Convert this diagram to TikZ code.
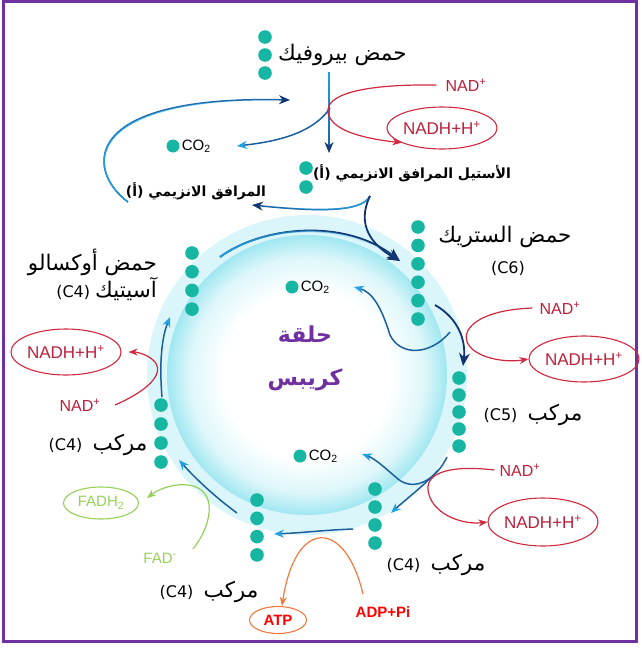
\documentclass[tikz,border=0pt]{standalone}
\usepackage{fontspec}
\setmainfont{Liberation Sans}
\newfontfamily\arabicfont[Script=Arabic]{DejaVu Sans}
\TeXXeTstate=1
\usetikzlibrary{arrows.meta, positioning, shapes.geometric, fadings}
\definecolor{xTeal}{RGB}{22,182,162}
\definecolor{xNavy}{RGB}{18,52,112}
\definecolor{xMid}{RGB}{26,96,158}
\definecolor{xSky}{RGB}{34,162,228}
\definecolor{xRed}{RGB}{208,40,62}
\definecolor{xWine}{RGB}{186,32,58}
\definecolor{xOrange}{RGB}{240,122,62}
\definecolor{xLime}{RGB}{150,208,88}
\definecolor{xPurple}{RGB}{112,48,160}
\definecolor{xHalo}{RGB}{218,246,250}
\definecolor{xCyan}{RGB}{160,231,241}
\pgfdeclareradialshading{krebsglow}{\pgfpoint{0bp}{0bp}}{color(0bp)=(white); color(15bp)=(white); color(21bp)=(xCyan!35); color(25bp)=(xCyan); color(50bp)=(xCyan)}
\tikzset{
  bead/.style={fill=xTeal},
  co2dot/.style={circle, fill=xTeal, inner sep=0pt, minimum size=13pt},
  tag/.style={font=\arabicfont\fontsize{16}{27}\selectfont, inner sep=1pt},
  btag/.style={font=\arabicfont\bfseries\fontsize{14}{16}\selectfont, inner sep=1pt},
  ringtitle/.style={font=\arabicfont\bfseries\fontsize{22}{43}\selectfont, text=xPurple, align=center, inner sep=1pt},
  mol/.style={font=\fontsize{15}{15}\selectfont, inner sep=1pt},
  nad/.style={font=\fontsize{16}{16}\selectfont, text=xWine, inner sep=1pt},
  nadh/.style={ellipse, draw=xRed, line width=1.1pt, text=xWine, inner sep=0pt, font=\fontsize{17}{17}\selectfont},
  fadtext/.style={font=\fontsize{15}{15}\selectfont, text=xLime, inner sep=1pt},
  fadh/.style={ellipse, draw=xLime, line width=1.1pt, text=xLime, inner sep=0pt, font=\fontsize{15}{15}\selectfont},
  energy/.style={font=\bfseries\fontsize{15}{15}\selectfont, text=red, inner sep=1pt},
  atpbox/.style={ellipse, draw=xOrange, line width=1.1pt, text=red, inner sep=0pt, font=\bfseries\fontsize{15}{15}\selectfont},
  main/.style={-{Stealth[length=13pt, width=11pt]}, line width=1.8pt, xNavy},
  back/.style={-{Stealth[length=11pt, width=9pt, color=xNavy]}, line width=1.5pt, xMid},
  side/.style={-{Stealth[length=10pt, width=8pt, color=xSky]}, line width=1.5pt, xMid},
  sheen/.style={postaction={draw=xSky, -, path fading=#1}},
  redox/.style={-{Stealth[length=9pt, width=7pt]}, line width=1.2pt, xRed},
  fadox/.style={-{Stealth[length=9pt, width=7pt]}, line width=1.2pt, xLime},
  phos/.style={-{Stealth[length=9pt, width=7pt]}, line width=1.2pt, xOrange},
}
% a column of carbon beads: name, x, top y, count, step
\newcommand{\beads}[5]{%
  \coordinate (#1) at (#2,#3);
  \foreach \k in {1,...,#4} \fill[bead] (#2,{#3+#5*(\k-1)}) circle[radius=6.8pt];
}
% Arabic words are set larger than the Latin around them
\newcommand{\arw}[1]{{\fontsize{21.5}{27}\selectfont #1}}

\begin{document}
\begin{tikzpicture}[x=1pt, y=-1pt]
  \useasboundingbox (0,0) rectangle (641,648);
  % the ring
  \fill[xHalo] (307,375) circle[radius=160pt];
  \shade[shading=krebsglow] (307,375) circle[radius=140pt];
  \fill[white] (236,315) rectangle (378,415);
  \draw[xPurple, line width=3pt] (3.5,1.5) rectangle (636.5,641.5);

  % molecules
  \beads{pyr}{265}{37}{3}{18}
  \beads{acoa}{306}{168}{2}{19}
  \beads{cit}{418}{227}{6}{18.4}
  \beads{kg}{459}{378}{5}{17}
  \beads{sca}{375}{489}{4}{18}
  \beads{suc}{257}{500}{4}{18.3}
  \beads{mal}{161}{405}{4}{19}
  \beads{oaa}{192}{253}{4}{18.7}

  \node[tag, anchor=west] (tpyr) at (277,55) {\arw{\beginR حمض بيروفيك\endR}};
  \node[btag] (tacoa) at (412,173) {(أ) \beginR الأستيل المرافق الانزيمي\endR};
  \node[btag] (tcoa) at (196,191) {(أ) \beginR المرافق الانزيمي\endR};
  \node[tag] (tcit) at (505,237) {\arw{\beginR حمض الستريك\endR}};
  \node[tag] (tc6) at (508,268) {(C6)};
  \node[tag] (tkg) at (533,415) {(C5)\ \ \arw{مركب}};
  \node[tag] (tsca) at (436,565) {(C4)\ \ \arw{مركب}};
  \node[tag] (tsuc) at (209,592) {(C4)\ \ \arw{مركب}};
  \node[tag] (tmal) at (98,445) {(C4)\ \ \arw{مركب}};
  \node[tag, align=right, anchor=east] (toaa) at (158,275) {\arw{\beginR حمض أوكسالو\endR}\\(C4) \arw{آسيتيك}};
  \node[ringtitle] (kr) at (305,358) {\beginR حلقة\endR\\\beginR كريبس\endR};

  \node[co2dot] (d1) at (173,146) {};
  \node[mol, right=1pt of d1] (co2a) {CO\textsubscript{2}};
  \node[co2dot] (d2) at (292,287) {};
  \node[mol, right=1pt of d2] (co2b) {CO\textsubscript{2}};
  \node[co2dot] (d3) at (300,456) {};
  \node[mol, right=1pt of d3] (co2c) {CO\textsubscript{2}};

  \node[nad] (n1) at (466,85) {NAD\textsuperscript{+}};
  \node[nadh, minimum width=107pt, minimum height=42pt] (h1) at (442,128) {NADH+H\textsuperscript{+}};
  \node[nad] (n2) at (560,308) {NAD\textsuperscript{+}};
  \node[nadh, minimum width=100pt, minimum height=46pt] (h2) at (584,359) {NADH+H\textsuperscript{+}};
  \node[nad] (n3) at (520,470) {NAD\textsuperscript{+}};
  \node[nadh, minimum width=107pt, minimum height=48pt] (h3) at (543,522) {NADH+H\textsuperscript{+}};
  \node[nad] (n4) at (80,405) {NAD\textsuperscript{+}};
  \node[nadh, minimum width=98pt, minimum height=46pt] (h4) at (66,352) {NADH+H\textsuperscript{+}};
  \node[fadtext] (f1) at (160,558) {FAD\textsuperscript{-}};
  \node[fadh, minimum width=75pt, minimum height=32pt] (f2) at (101,503) {FADH\textsubscript{2}};
  \node[energy] (adp) at (383,612) {ADP+Pi};
  \node[atpbox, minimum width=57pt, minimum height=27pt] (atp) at (278,620) {ATP};

  % link reaction
  \coordinate (p1) at (329,72);
  \coordinate (p2) at (329,153);
  \draw[back, sheen=south] (p1) -- (p2);
  \coordinate (j1) at (330,108);
  \coordinate (e1) at (237,146);
  \draw[side] (j1) .. controls (312,135) and (272,142) .. (e1);
  \coordinate (c1) at (128,202);
  \coordinate (c2) at (290,100);
  \draw[back, sheen=east] (c1) .. controls (85,170) and (80,95) .. (c2);
  \draw[redox] ([xshift=-8pt]n1.west) .. controls (360,84) and (325,95) .. (328,113) .. controls (332,130) and (360,138) .. (h1.200);

  % acetyl fork into citrate
  \coordinate (a1) at (370,196);
  \coordinate (a2) at (252,205);
  \coordinate (a3) at (400,261);
  \draw[back, sheen=west] (a1) .. controls (362,212) and (320,212) .. (a2);
  \draw[main] (a1) .. controls (356,225) and (372,245) .. (a3);
  \coordinate (o1) at (220,257);
  \draw[main, sheen=east] (o1) .. controls (262,226) and (345,218) .. (a3);

  % citrate to C5
  \coordinate (k1) at (435,305);
  \coordinate (k2) at (463,366);
  \draw[main] (k1) .. controls (458,318) and (466,340) .. (k2);
  \coordinate (k3) at (450,332);
  \coordinate (e2) at (354,287);
  \draw[side] (k3) .. controls (430,356) and (400,356) .. (390,335) .. controls (381,306) and (372,292) .. (e2);
  \draw[redox] ([xshift=-6pt]n2.west) .. controls (480,310) and (462,328) .. (467,342) .. controls (474,358) and (505,363) .. (h2.west);

  % C5 to C4
  \coordinate (g1) at (447,457);
  \coordinate (e3) at (362,454);
  \draw[side] (g1) .. controls (436,480) and (414,492) .. (398,479) .. controls (386,469) and (376,459) .. (e3);
  \coordinate (g2) at (438,470);
  \coordinate (g3) at (391,513);
  \draw[side] (g2) .. controls (425,485) and (405,500) .. (g3);
  \draw[redox] ([xshift=-4pt]n3.west) .. controls (452,465) and (426,472) .. (428,490) .. controls (431,514) and (462,525) .. (h3.west);

  % C4 to C4
  \coordinate (s1) at (353,529);
  \coordinate (s2) at (274,534);
  \draw[side] (s1) .. controls (325,530) and (300,533) .. (s2);
  \coordinate (t1) at (363,594);
  \draw[phos] (t1) .. controls (345,518) and (295,518) .. ([xshift=4pt]atp.north);
  \coordinate (u1) at (237,513);
  \coordinate (u2) at (179,460);
  \draw[side] (u1) .. controls (215,497) and (195,478) .. (u2);
  \coordinate (v1) at (193,549);
  \coordinate (v2) at (147,498);
  \draw[fadox] (v1) .. controls (212,525) and (216,495) .. (196,487) .. controls (180,481) and (160,488) .. (v2);

  % back to oxaloacetate
  \coordinate (m1) at (162,397);
  \coordinate (m2) at (170,317);
  \draw[side] (m1) .. controls (159,362) and (162,337) .. (m2);
  \coordinate (w1) at (115,405);
  \draw[redox] (w1) .. controls (145,392) and (165,375) .. (155,362) .. controls (148,354) and (136,352) .. ([xshift=7pt]h4.east);
\end{tikzpicture}
\end{document}
